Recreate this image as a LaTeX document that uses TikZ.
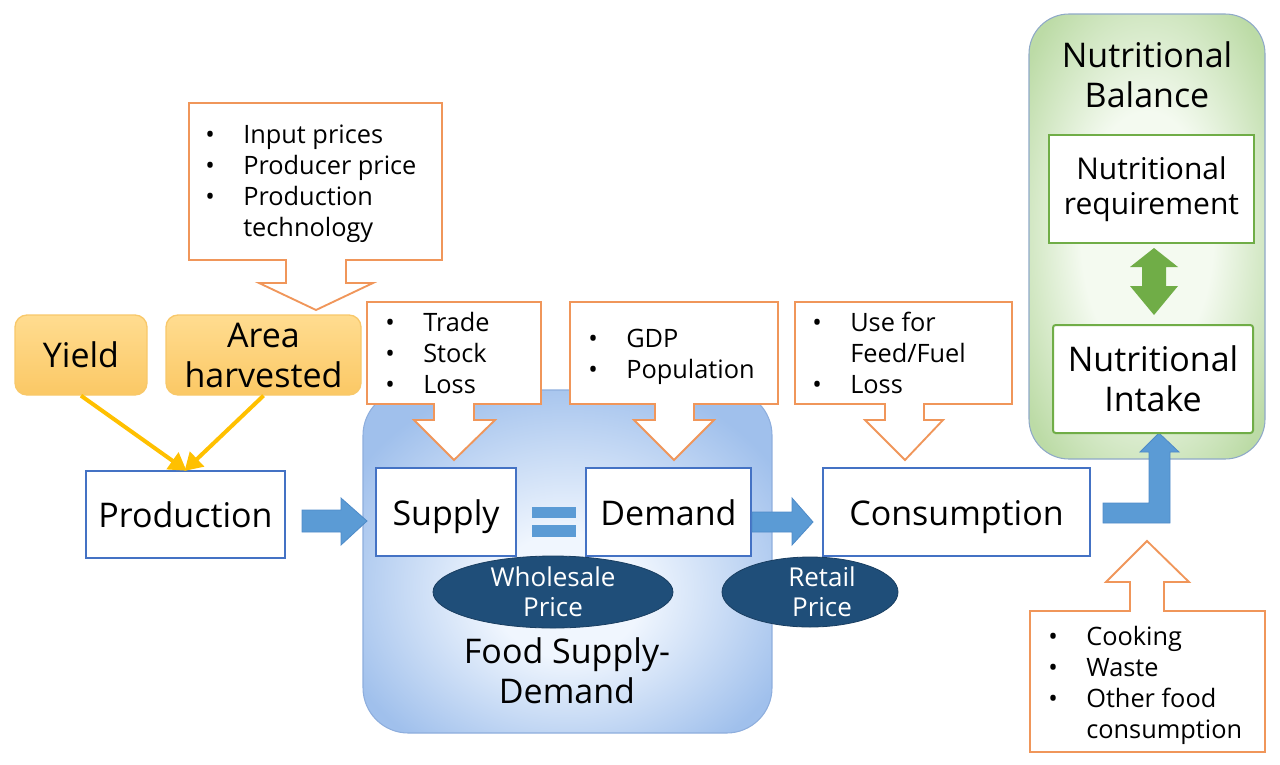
\documentclass[tikz,border=0pt]{standalone}
\usepackage{fontspec}
\setmainfont{Open Sans}
\usetikzlibrary{shapes.geometric,fit,arrows.meta}

\definecolor{boxblue}{HTML}{4472C4}
\definecolor{arrblue}{HTML}{5B9BD5}
\definecolor{arrblueD}{HTML}{4E8AC8}
\definecolor{navy}{HTML}{1F4E79}
\definecolor{orng}{RGB}{240,150,90}
\definecolor{grn}{HTML}{70AD47}
\definecolor{gold}{HTML}{FFC000}
\definecolor{yelT}{HTML}{FFDC90}
\definecolor{yelB}{HTML}{FBC865}
\definecolor{yelE}{HTML}{F8C86A}
\definecolor{panelO}{HTML}{A0C0EC}
\definecolor{panelI}{HTML}{F0F6FE}
\definecolor{panelE}{HTML}{8EAEDD}
\definecolor{gpanelO}{HTML}{BCDBA6}
\definecolor{gpanelI}{HTML}{F4FAF0}
\definecolor{gpanelE}{HTML}{8FA9C8}

\pgfdeclareradialshading{bluepanel}{\pgfpoint{0bp}{-6bp}}{color(0bp)=(panelI); color(9bp)=(panelI); color(30bp)=(panelO); color(50bp)=(panelO)}
\pgfdeclareradialshading{greenpanel}{\pgfpoint{0bp}{0bp}}{color(0bp)=(gpanelI); color(14bp)=(gpanelI); color(32bp)=(gpanelO); color(50bp)=(gpanelO)}

\newcommand\myBig{\fontsize{25.5}{30}\selectfont}
\newcommand\myReq{\fontsize{22.5}{26.5}\selectfont}
\newcommand\myMid{\fontsize{19}{23.25}\selectfont}
\newcommand\mySm{\fontsize{19.5}{22.5}\selectfont}
\newcommand\myList[1]{\begin{tabular}[t]{@{}p{28.5pt}@{}l@{}}#1\end{tabular}}

\begin{document}
\begin{tikzpicture}[x=0.75pt,y=-0.75pt,
  bx/.style={draw=boxblue,line width=1.5pt,fill=white,inner sep=0pt,font=\myBig,align=center,text height=22pt,text depth=2pt},
  gbx/.style={draw=grn,line width=1.5pt,fill=white,inner sep=0pt,align=center},
  ybx/.style={draw=yelE,line width=1pt,rounded corners=9pt,top color=yelT,bottom color=yelB,inner sep=0pt,font=\myBig,align=center},
  price/.style={ellipse,fill=navy,draw=navy!80!black,line width=0.6pt,inner sep=0pt},
  pricetext/.style={text=white,font=\mySm,align=center,inner sep=0pt},
  callout/.style={draw=orng,line width=1.4pt,fill=white,line join=miter},
  blockarrow/.style={fill=arrblue,draw=arrblueD,line width=0.6pt},
  yarrow/.style={draw=gold,line width=3pt,-{Triangle[length=13pt,width=15pt]},shorten >=-1pt},
  listnode/.style={anchor=base west,inner sep=0pt,font=\myMid}]

\useasboundingbox (0,0) rectangle (1280,764);

% panels
\node[fit={(363,390)(772,733)},inner sep=0pt,draw=panelE,line width=0.8pt,rounded corners=34pt,shading=bluepanel] (fsd) {};
\node[fit={(1029,14)(1265,459)},inner sep=0pt,draw=gpanelE,line width=0.8pt,rounded corners=30pt,shading=greenpanel] (nb) {};
\node[font=\myBig,align=center] (fsdlab) at (567,671) {Food Supply-\\Demand};
\node[font=\myBig,align=center] (nblab) at (1147,75) {Nutritional\\Balance};

% callouts
\draw[callout] (189,103) -- (442,103) -- (442,260) -- (346,260) -- (346,283) -- (373,283) -- (316,310)
  -- (259,283) -- (286,283) -- (286,260) -- (189,260) -- cycle;
\node[listnode] (l1) at (205,143) {\myList{• & Input prices\\ • & Producer price\\ • & Production\\ & technology}};

% input boxes
\node[ybx,minimum width=99pt,minimum height=60pt] (yield) at (81,355) {Yield};
\node[ybx,minimum width=146.25pt,minimum height=60pt] (area) at (263.5,355) {Area\\harvested};

\node[bx,minimum width=149.25pt,minimum height=65.25pt] (prod) at (185.5,514.5) {Production};
\node[bx,minimum width=105pt,minimum height=66pt] (sup) at (446,512) {Supply};
\node[bx,minimum width=123.75pt,minimum height=66pt] (dem) at (668.5,512) {Demand};
\node[bx,minimum width=200.25pt,minimum height=66pt] (cons) at (956.5,512) {Consumption};

\draw[yarrow] (yield.south) -- (prod.north);
\draw[yarrow] (area.south) -- (prod.north);

\draw[callout] (367,302) -- (541,302) -- (541,404) -- (474,404) -- (474,420) -- (495,420) -- (454,460)
  -- (414,420) -- (434,420) -- (434,404) -- (367,404) -- cycle;
\node[listnode] (l2) at (385,331) {\myList{• & Trade\\ • & Stock\\ • & Loss}};

\draw[callout] (570,302) -- (778,302) -- (778,404) -- (694,404) -- (694,420) -- (714,420) -- (674,460)
  -- (634,420) -- (655,420) -- (655,404) -- (570,404) -- cycle;
\node[listnode] (l3) at (588,347) {\myList{• & GDP\\ • & Population}};

\draw[callout] (795,302) -- (1012,302) -- (1012,404) -- (924,404) -- (924,420) -- (943,420) -- (905,460)
  -- (865,420) -- (885,420) -- (885,404) -- (795,404) -- cycle;
\node[listnode] (l4) at (812,331) {\myList{• & Use for\\ & Feed/Fuel\\ • & Loss}};

\draw[callout] (1030,611) -- (1130,611) -- (1130,582) -- (1106,582) -- (1147,541) -- (1189,582) -- (1164,582)
  -- (1164,611) -- (1265,611) -- (1265,752) -- (1030,752) -- cycle;
\node[listnode] (l5) at (1048,645) {\myList{• & Cooking\\ • & Waste\\ • & Other food\\ & consumption}};

% block arrows
\draw[blockarrow] (302,510) -- (341,510) -- (341,498) -- (367,521) -- (341,545) -- (341,532) -- (302,532) -- cycle;
\draw[blockarrow] (752,512) -- (792,512) -- (792,498) -- (813,522) -- (792,545) -- (792,532) -- (752,532) -- cycle;
\draw[blockarrow] (1103,503) -- (1149,503) -- (1149,452) -- (1140,452) -- (1159,433) -- (1179,452) -- (1170,452)
  -- (1170,523) -- (1103,523) -- cycle;

% equals sign
\fill[arrblue] (532,507) rectangle (576,518);
\fill[arrblue] (532,525) rectangle (576,537);

% prices
\node[price,minimum width=180pt,minimum height=54pt] (whp) at (553,592) {};
\node[pricetext] (whplab) at (whp.center) {Wholesale\\Price};
\node[price,minimum width=132pt,minimum height=52.5pt] (rtp) at (810,592) {};
\node[pricetext] (rtplab) at ([xshift=9pt]rtp.center) {Retail\\Price};

% nutrition boxes
\node[gbx,minimum width=153.75pt,minimum height=81pt,font=\myReq] (req) at (1151.5,189) {Nutritional\\requirement};
\node[gbx,minimum width=150pt,minimum height=81pt,font=\myBig,rounded corners=2pt] (intk) at (1153,379) {Nutritional\\Intake};

\fill[grn] (1154,248) -- (1178,267) -- (1166,267) -- (1166,286) -- (1178,286) -- (1154,315)
  -- (1130,286) -- (1142,286) -- (1142,267) -- (1130,267) -- cycle;
\end{tikzpicture}
\end{document}
